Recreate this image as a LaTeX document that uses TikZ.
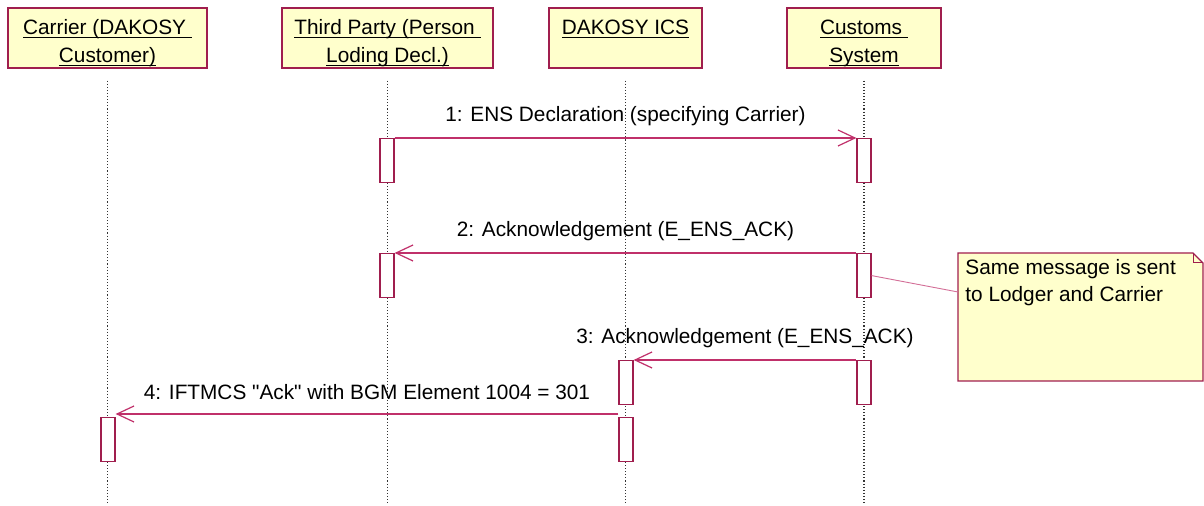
\documentclass[tikz,border=0pt]{standalone}
\usepackage{fontspec}
\setmainfont{Liberation Sans}
\usetikzlibrary{calc, arrows.meta}

\definecolor{umlborder}{HTML}{A01E4E}
\definecolor{umlline}{HTML}{C0306A}
\definecolor{umlfill}{HTML}{FFFFCC}

% underline close to the baseline, and a two line header of fixed height
\newcommand{\hul}[1]{\setbox0=\hbox{#1}\rlap{\rule[-1.6pt]{\wd0}{0.5pt}}\box0}
\newcommand{\hdr}[2]{\raisebox{0pt}[13.5pt][0pt]{\hul{#1}}\\\raisebox{0pt}[\height][2.5pt]{\hul{#2}}}

\tikzset{
    actor/.style={draw=umlborder, fill=umlfill, line width=0.6pt, align=center,
        minimum height=30pt, inner sep=0pt, font=\fontsize{10.4}{14}\selectfont},
    lifeline/.style={densely dotted, gray!40!black, line width=0.55pt},
    activation/.style={draw=umlborder, fill=white, line width=0.6pt, anchor=north,
        minimum width=7pt, minimum height=22pt, inner sep=0pt},
    msg/.style={umlline, line width=0.6pt, -{Straight Barb[length=8.5pt, width=8pt, line width=0.6pt]}},
    msglabel/.style={midway, yshift=11pt, text=black, font=\fontsize{10.4}{12}\selectfont},
}

\begin{document}
\begin{tikzpicture}[x=0.5pt, y=-0.5pt]
    \useasboundingbox (0, 0) rectangle (1204, 506);

    % header boxes
    \node[actor, minimum width=99.5pt] (carrier) at (107.5, 38)
        {\hdr{Carrier (DAKOSY\ }{Customer)}};
    \node[actor, minimum width=105.5pt] (third) at (387.5, 38)
        {\hdr{Third Party (Person\ }{Loding Decl.)}};
    \node[actor, minimum width=76.5pt] (ics) at (625.5, 38)
        {\hdr{DAKOSY ICS}{}};
    \node[actor, minimum width=77pt] (customs) at (864, 38)
        {\hdr{Customs\ }{System}};

    % lifelines
    \foreach \who in {carrier, third, ics, customs}
        \draw[lifeline] ([yshift=-6pt]\who.south) -- (\who.south |- 0, 505);

    % activations
    \node[activation] (tp1) at (387, 138) {};
    \node[activation] (cs1) at (864, 138) {};
    \node[activation] (tp2) at (387, 253) {};
    \node[activation] (cs2) at (864, 253) {};
    \node[activation] (ic1) at (626, 360) {};
    \node[activation] (cs3) at (864, 360) {};
    \node[activation] (ic2) at (626, 417) {};
    \node[activation] (ca1) at (108, 417) {};

    % messages
    \draw[msg] (tp1.north east) -- (cs1.north west)
        node[msglabel] {1: ENS Declaration (specifying Carrier)};
    \draw[msg] (cs2.north west) -- (tp2.north east)
        node[msglabel] {2: Acknowledgement (E\_ENS\_ACK)};
    \draw[msg] (cs3.north west) -- (ic1.north east)
        node[msglabel] {3: Acknowledgement (E\_ENS\_ACK)};
    \draw[msg] ([yshift=1.5pt]ic2.north west) -- ([yshift=1.5pt]ca1.north east)
        node[msglabel] {4: IFTMCS \textquotedbl Ack\textquotedbl{} with BGM Element 1004 = 301};

    % note
    \draw[umlborder, fill=umlfill, line width=0.6pt]
        (958, 253) -- (1193, 253) -- (1203, 263) -- (1203, 381) -- (958, 381) -- cycle;
    \draw[umlborder, line width=0.5pt] (1193, 253) -- (1193, 263) -- (1203, 263);
    \node[anchor=north west, align=left, inner sep=0pt, font=\fontsize{10.4}{13.5}\selectfont]
        (note) at (965, 259) {Same message is sent\\to Lodger and Carrier};
    \coordinate (notepin) at (958, 292);
    \draw[umlline!70, line width=0.45pt] (cs2.east) -- (notepin);
\end{tikzpicture}
\end{document}
